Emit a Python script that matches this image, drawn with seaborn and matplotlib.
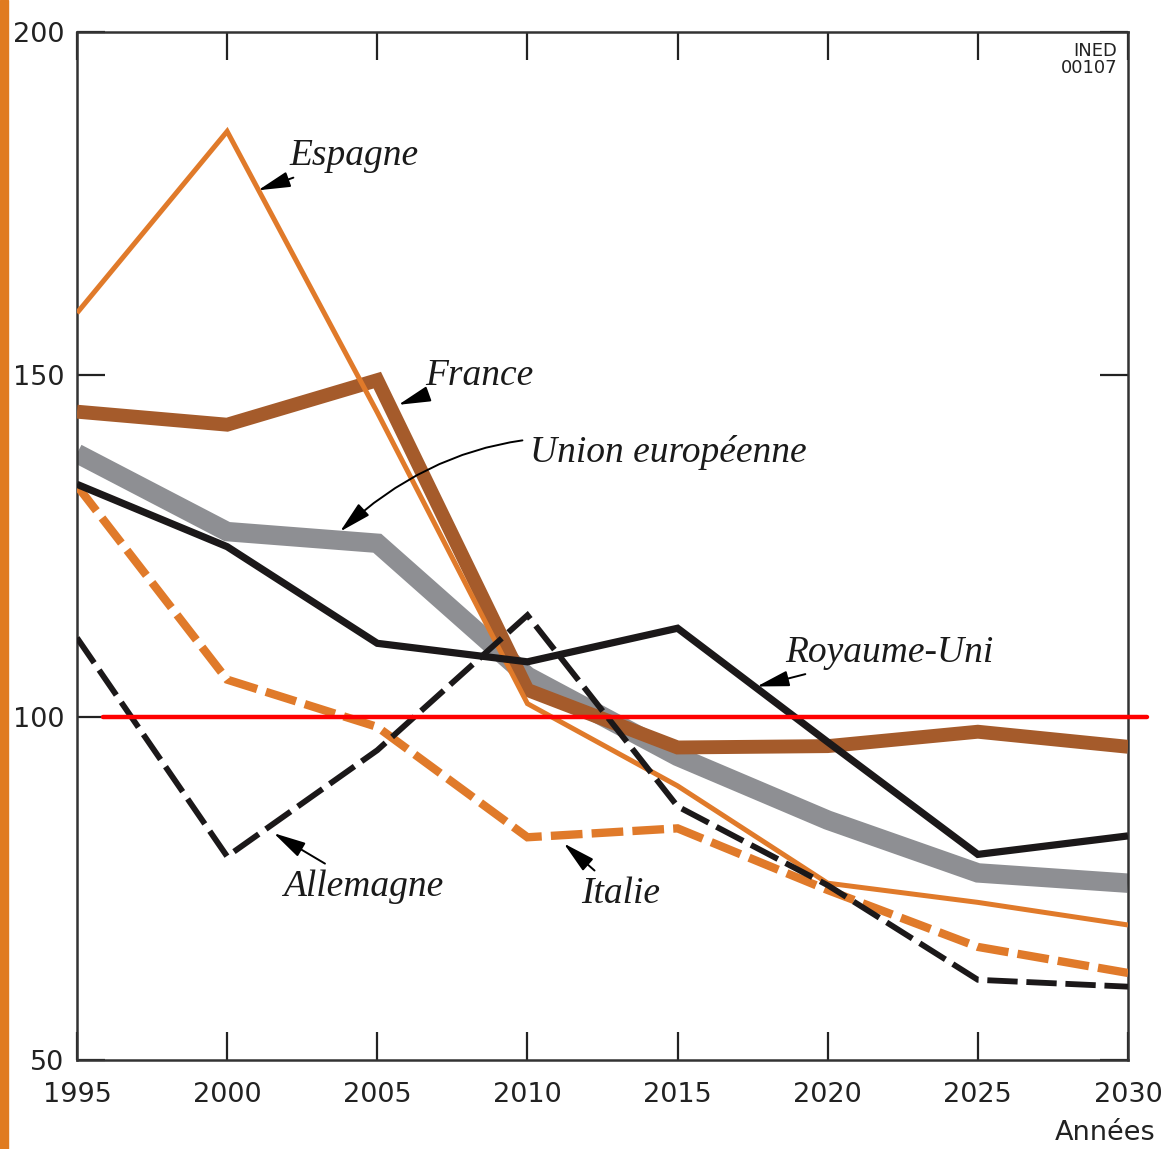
import matplotlib
matplotlib.use("Agg")
import matplotlib.pyplot as plt
import seaborn as sns
import pandas as pd
from matplotlib import font_manager as fm
from matplotlib.patches import Rectangle

# ---------------- data ----------------
years = [1995, 2000, 2005, 2010, 2015, 2020, 2025, 2030]
espagne = [159.0, 185.5, 144.5, 102.0, 90.0, 75.8, 73.0, 69.7]
france = [144.6, 142.7, 149.2, 104.0, 95.6, 95.8, 97.9, 95.7]
union_europeenne = [138.5, 127.1, 125.4, 106.0, 94.3, 85.0, 77.3, 75.8]
royaume_uni = [134.0, 124.9, 110.8, 108.1, 113.0, 96.4, 80.0, 82.7]
allemagne = [111.6, 79.7, 95.2, 114.9, 87.0, 75.5, 61.7, 60.7]
italie = [133.8, 105.5, 98.6, 82.5, 83.8, 74.8, 66.5, 62.7]

x_ticks = [1995, 2000, 2005, 2010, 2015, 2020, 2025, 2030]
y_ticks = [50, 100, 150, 200]

# ---------------- style ----------------
sns.set_style("white")
names = {f.name for f in fm.fontManager.ttflist}
if "Liberation Sans Narrow" in names:
    tick_font, tick_size, ined_size = "Liberation Sans Narrow", 24, 16
else:
    tick_font, tick_size, ined_size = "DejaVu Sans", 19.5, 13
label_font = "Liberation Serif" if "Liberation Serif" in names else "DejaVu Serif"
plt.rcParams["font.family"] = [tick_font, "DejaVu Sans"]

ORANGE = "#E07A2A"
BROWN = "#A55B2B"
GREY = "#8E8F93"
BLACK = "#1B1819"

fig = plt.figure(figsize=(11.66, 11.49), dpi=100)
ax = fig.add_axes([77 / 1166, 1 - 1060 / 1149, (1128 - 77) / 1166, (1060 - 32) / 1149])

# orange bar at left edge of figure
fig.patches.append(Rectangle((0, 0), 8 / 1166, 1, transform=fig.transFigure,
                             color="#E07B20", zorder=0))

common = dict(ax=ax, legend=False, solid_joinstyle="miter", dash_joinstyle="miter",
              solid_capstyle="butt", dash_capstyle="butt")

sns.lineplot(x=years, y=union_europeenne, color=GREY, linewidth=14, zorder=2, **common)
sns.lineplot(x=years, y=france, color=BROWN, linewidth=10, zorder=3, **common)
sns.lineplot(x=years, y=espagne, color=ORANGE, linewidth=3.6, zorder=4, **common)
sns.lineplot(x=years, y=italie, color=ORANGE, linewidth=6, linestyle=(0, (3.8, 1.1)),
             zorder=5, **common)
sns.lineplot(x=years, y=allemagne, color=BLACK, linewidth=4.2, linestyle=(0, (5.2, 1.5)),
             zorder=6, **common)
sns.lineplot(x=years, y=royaume_uni, color=BLACK, linewidth=5.2, zorder=7, **common)

# red reference line at 100
ax.axhline(100, xmin=(103 - 77) / 1051, xmax=(1147 - 77) / 1051, color="#FF0000",
           linewidth=3.2, zorder=10, clip_on=False)

ax.set_xlim(1995, 2030)
ax.set_ylim(50, 200)
ax.set_xticks(x_ticks)
ax.set_yticks(y_ticks)
ax.set_xticklabels([str(v) for v in x_ticks])
ax.set_yticklabels([str(v) for v in y_ticks])
ax.set_xlabel("")
ax.set_ylabel("")

for s in ax.spines.values():
    s.set_visible(True)
    s.set_color("#333333")
    s.set_linewidth(1.8)

ax.tick_params(axis="both", direction="in", length=20, width=1.6, color="#222222",
               top=True, right=True, bottom=True, left=True,
               labeltop=False, labelright=False, labelsize=tick_size, labelcolor="#222222")
ax.tick_params(axis="x", pad=16)
ax.tick_params(axis="y", pad=9)

# annotations
arrow = dict(arrowstyle="-|>,head_length=0.9,head_width=0.22", mutation_scale=22,
             color="black", lw=1.4, shrinkA=3, shrinkB=0)
lab = dict(fontsize=27, style="italic", family=[label_font, "DejaVu Serif"],
           color="#1a1a1a", ha="left", va="baseline", zorder=12)

ax.annotate("Espagne", xy=(2001.03, 176.9), xytext=(2002.09, 180.6),
            arrowprops=arrow, **lab)
ax.annotate("France", xy=(2005.70, 145.6), xytext=(2006.59, 148.5),
            arrowprops=arrow, **lab)
ax.annotate("Union européenne", xy=(2003.76, 127.1), xytext=(2010.08, 137.3),
            arrowprops=dict(arrow, connectionstyle="arc3,rad=0.28"), **lab)
ax.annotate("Royaume-Uni", xy=(2017.64, 104.5), xytext=(2018.6, 108.1),
            arrowprops=arrow, **lab)
ax.annotate("Allemagne", xy=(2001.55, 83.1), xytext=(2001.86, 74.0),
            arrowprops=arrow, **lab)
ax.annotate("Italie", xy=(2011.21, 81.6), xytext=(2011.80, 72.9),
            arrowprops=arrow, **lab)

ax.text((1156 - 77) / 1051, (1060 - 1140) / 1028, "Années", transform=ax.transAxes,
        ha="right", va="baseline", fontsize=tick_size, color="#222222")
ax.text((1117 - 77) / 1051, (1060 - 42) / 1028, "INED\n00107", transform=ax.transAxes,
        ha="right", va="top", fontsize=ined_size, color="#222222", linespacing=0.95,
        multialignment="right")

fig.savefig("out.png", dpi=100)
